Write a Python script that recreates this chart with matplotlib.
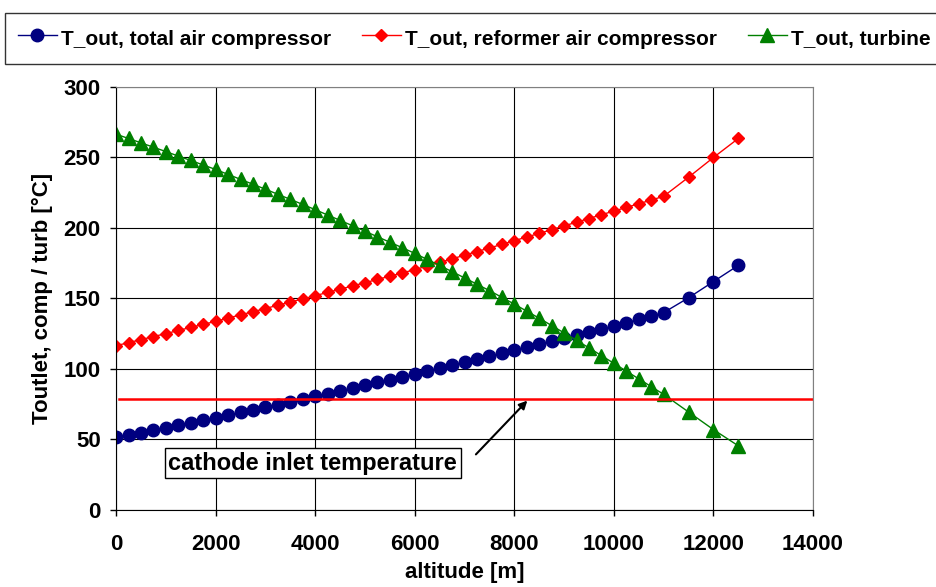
import matplotlib
matplotlib.use("Agg")
import matplotlib.pyplot as plt

plt.rcParams['font.family'] = ['Liberation Sans', 'DejaVu Sans']
plt.rcParams['font.weight'] = 'bold'

altitude = [0, 250, 500, 750, 1000, 1250, 1500, 1750, 2000, 2250, 2500, 2750,
            3000, 3250, 3500, 3750, 4000, 4250, 4500, 4750, 5000, 5250, 5500, 5750,
            6000, 6250, 6500, 6750, 7000, 7250, 7500, 7750, 8000, 8250, 8500, 8750,
            9000, 9250, 9500, 9750, 10000, 10250, 10500, 10750, 11000,
            11500, 12000, 12500]

t_total_comp = [51.5, 53.2, 54.9, 56.6, 58.3, 60.0, 61.8, 63.6, 65.5, 67.3, 69.2, 71.0,
                72.9, 74.8, 76.7, 78.6, 80.5, 82.5, 84.5, 86.5, 88.5, 90.5, 92.5, 94.5,
                96.5, 98.6, 100.7, 102.8, 104.9, 107.0, 109.1, 111.3, 113.5, 115.6, 117.7, 119.8,
                121.9, 124.0, 126.1, 128.3, 130.5, 132.8, 135.1, 137.5, 140.0,
                150.5, 162.0, 173.5]

t_reformer_comp = [116.5, 118.7, 120.8, 123.0, 125.1, 127.3, 129.5, 131.6, 133.8, 136.1, 138.4, 140.6,
                   142.9, 145.2, 147.5, 149.7, 152.0, 154.3, 156.6, 158.9, 161.2, 163.5, 165.8, 168.1,
                   170.5, 173.0, 175.6, 178.1, 180.7, 183.3, 185.8, 188.4, 191.0, 193.6, 196.2, 198.8,
                   201.5, 204.1, 206.7, 209.4, 212.0, 214.6, 217.2, 219.8, 222.5,
                   236.0, 250.0, 263.5]

t_turbine = [266.5, 263.5, 260.4, 257.3, 254.2, 251.0, 247.9, 244.7, 241.5, 238.0, 234.5, 231.0,
             227.5, 223.9, 220.3, 216.7, 213.0, 209.2, 205.4, 201.6, 197.7, 193.8, 189.9, 186.0,
             182.0, 177.7, 173.4, 169.0, 164.6, 160.1, 155.6, 150.8, 146.0, 141.0, 136.0, 130.8,
             125.6, 120.3, 115.0, 109.5, 104.0, 98.5, 93.0, 87.5, 82.0,
             69.5, 57.0, 45.5]

cathode_inlet_temp = 79
cathode_line_x = [50, 14000]

fig = plt.figure(figsize=(9.36, 5.87), dpi=100)
ax = fig.add_axes([0.124, 0.1312, 0.7446, 0.7206])

ax.plot(altitude, t_total_comp, color='#000080', marker='o', markersize=9, linewidth=1,
        label='T_out, total air compressor')
ax.plot(altitude, t_reformer_comp, color='#ff0000', marker='D', markersize=6.5, linewidth=1,
        label='T_out, reformer air compressor')
ax.plot(altitude, t_turbine, color='#008000', marker='^', markersize=9.5, linewidth=1,
        label='T_out, turbine')

ax.plot(cathode_line_x, [cathode_inlet_temp, cathode_inlet_temp], color='#ff0000', linewidth=1.8)

ax.text(3950, 33, 'cathode inlet temperature', fontsize=17, fontweight='bold',
        ha='center', va='center',
        bbox=dict(boxstyle='square,pad=0.15', facecolor='white', edgecolor='black', linewidth=1))
ax.annotate('', xy=(8300, cathode_inlet_temp), xytext=(7190, 38),
            arrowprops=dict(arrowstyle='-|>', color='black', lw=1.5, mutation_scale=12))

ax.set_xlim(0, 14000)
ax.set_ylim(0, 300)
ax.set_xticks(range(0, 14001, 2000))
ax.set_yticks(range(0, 301, 50))
ax.grid(True, color='black', linewidth=0.8)
ax.set_axisbelow(True)

for side in ['top', 'right']:
    ax.spines[side].set_color('#808080')
for side in ['left', 'bottom']:
    ax.spines[side].set_color('black')

ax.tick_params(axis='both', labelsize=16, length=4, width=1, direction='out')
ax.tick_params(axis='x', pad=13)
ax.tick_params(axis='y', pad=7)
for lbl in ax.get_xticklabels() + ax.get_yticklabels():
    lbl.set_fontweight('bold')

ax.set_xlabel('altitude [m]', fontsize=16, fontweight='bold', labelpad=5)
ax.set_ylabel('Toutlet, comp / turb [°C]', fontsize=16, fontweight='bold', labelpad=8)

leg = fig.legend(loc='upper left', bbox_to_anchor=(5 / 936, 1 - 13 / 587), ncol=3,
                 fontsize=15, frameon=True, fancybox=False, edgecolor='black',
                 handlelength=1.9, handleheight=1.55, handletextpad=0.2, columnspacing=1.45,
                 borderpad=0.6, borderaxespad=0)
leg.get_frame().set_linewidth(1)
for t in leg.get_texts():
    t.set_fontweight('bold')

fig.savefig('out.png', dpi=100)
